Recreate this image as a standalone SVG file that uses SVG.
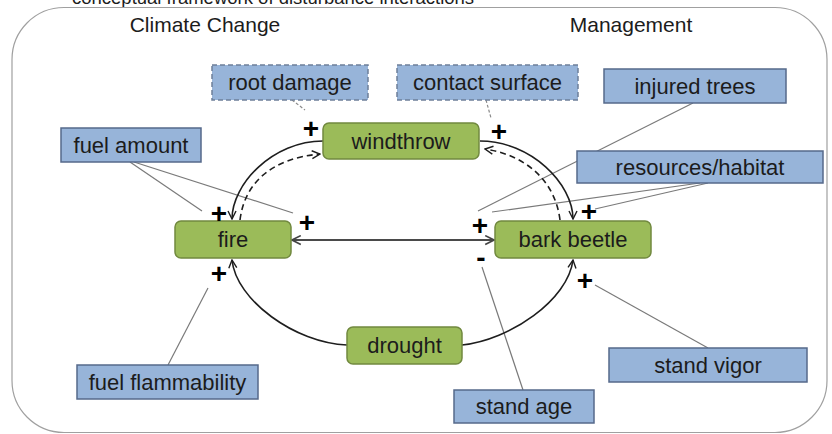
<svg xmlns="http://www.w3.org/2000/svg" width="832" height="434" viewBox="0 0 832 434">
<defs>
<style>
text{font-family:"Liberation Sans",Arial,sans-serif;fill:#1c1c1c}
.lbl{font-size:22px;text-anchor:middle}
.hdr{font-size:21px;text-anchor:middle}
.sign{font-size:28px;font-weight:bold;text-anchor:middle;fill:#000}
.g{fill:#9bbb59;stroke:#71893f;stroke-width:1.5}
.b{fill:#97b4d9;stroke:#56698a;stroke-width:1.5}
.bd{fill:#97b4d9;stroke:#6d7f99;stroke-width:1.5;stroke-dasharray:5 3}
.arc{fill:none;stroke:#1e1e1e;stroke-width:1.6}
.dash{fill:none;stroke:#1e1e1e;stroke-width:1.6;stroke-dasharray:6 4}
.inf{fill:none;stroke:#7a7a7a;stroke-width:1.2}
.infd{fill:none;stroke:#8a8a8a;stroke-width:1.2;stroke-dasharray:3 2}
</style>
<marker id="ah" viewBox="0 0 10 10" refX="9" refY="5" markerWidth="10" markerHeight="10" markerUnits="userSpaceOnUse" orient="auto-start-reverse">
<path d="M1,1 L9,5 L1,9" fill="none" stroke="#1e1e1e" stroke-width="1.4"/>
</marker>
<marker id="ah2" viewBox="0 0 10 10" refX="9" refY="5" markerWidth="11" markerHeight="11" markerUnits="userSpaceOnUse" orient="auto-start-reverse">
<path d="M1,1 L9,5 L1,9" fill="none" stroke="#444" stroke-width="1.5"/>
</marker>
</defs>
<rect width="832" height="434" fill="#fff"/>
<text x="72" y="4" style="font-size:18.5px">conceptual framework of disturbance interactions</text>
<rect x="12" y="7.5" width="815" height="425" rx="52" ry="52" fill="none" stroke="#a0a0a0" stroke-width="1.2"/>
<text class="hdr" x="205" y="32">Climate Change</text>
<text class="hdr" x="631" y="32">Management</text>

<g id="connectors">
<path class="inf" d="M693,103 L478,211"/>
<path class="inf" d="M130,162 L202,211"/>
<path class="inf" d="M134,162 L293,213"/>
<path class="inf" d="M168,365 L208,288"/>
<path class="inf" d="M700,183 L492,212"/>
<path class="inf" d="M708,183 L595,209"/>
<path class="inf" d="M482,267 L523,390"/>
<path class="inf" d="M595,285 L708,348"/>
<path class="infd" d="M292,100 L305,110"/>
<path class="infd" d="M486,100 L491,118"/>
<path d="M292,240 L494,240" fill="none" stroke="#4a4a4a" stroke-width="2" marker-start="url(#ah2)" marker-end="url(#ah2)"/>
<path class="arc" d="M323,141 C273,141 232,184 232,219" marker-end="url(#ah)"/>
<path class="dash" d="M240,220 C245,180 275,158 320,154" marker-end="url(#ah)"/>
<path class="arc" d="M480,141 C531,141 573,184 573,219" marker-end="url(#ah)"/>
<path class="dash" d="M560,220 C555,180 525,155 485,149" marker-end="url(#ah)"/>
<path class="arc" d="M347,345 C295,343 236,300 232,260" marker-end="url(#ah)"/>
<path class="arc" d="M462,345 C510,340 568,300 573,260" marker-end="url(#ah)"/>
</g>

<g id="resources-habitat"><rect class="b" x="577" y="151" width="246" height="32"/><text class="lbl" x="700" y="175">resources/habitat</text></g>
<g id="root-damage"><rect class="bd" x="212" y="65" width="156" height="35"/><text class="lbl" x="290" y="90">root damage</text></g>
<g id="contact-surface"><rect class="bd" x="397" y="65" width="181" height="35"/><text class="lbl" x="487.5" y="90">contact surface</text></g>
<g id="injured-trees"><rect class="b" x="604" y="69" width="182" height="34"/><text class="lbl" x="695" y="94">injured trees</text></g>
<g id="fuel-amount"><rect class="b" x="61" y="128" width="140" height="34"/><text class="lbl" x="131" y="153">fuel amount</text></g>
<g id="fuel-flammability"><rect class="b" x="77" y="365" width="181" height="34"/><text class="lbl" x="167.5" y="390">fuel flammability</text></g>
<g id="stand-age"><rect class="b" x="454" y="390" width="140" height="33"/><text class="lbl" x="524" y="414">stand age</text></g>
<g id="stand-vigor"><rect class="b" x="609" y="348" width="198" height="34"/><text class="lbl" x="708" y="373">stand vigor</text></g>

<g id="windthrow"><rect class="g" x="323" y="123" width="156" height="36" rx="6"/><text class="lbl" x="401" y="149">windthrow</text></g>
<g id="fire"><rect class="g" x="175" y="221" width="116" height="37" rx="6"/><text class="lbl" x="233" y="247">fire</text></g>
<g id="bark-beetle"><rect class="g" x="495" y="221" width="156" height="37" rx="6"/><text class="lbl" x="573" y="247">bark beetle</text></g>
<g id="drought"><rect class="g" x="347" y="327" width="115" height="37" rx="6"/><text class="lbl" x="404.5" y="353">drought</text></g>

<g id="signs">
<text class="sign" x="311" y="137.5">+</text>
<text class="sign" x="499" y="140.5">+</text>
<text class="sign" x="219" y="222.5">+</text>
<text class="sign" x="307" y="231.5">+</text>
<text class="sign" x="219" y="282.5">+</text>
<text class="sign" x="480" y="234.5">+</text>
<text class="sign" x="589" y="220.5">+</text>
<text class="sign" x="585" y="289.5">+</text>
<text class="sign" x="481" y="267">-</text>
</g>
</svg>
